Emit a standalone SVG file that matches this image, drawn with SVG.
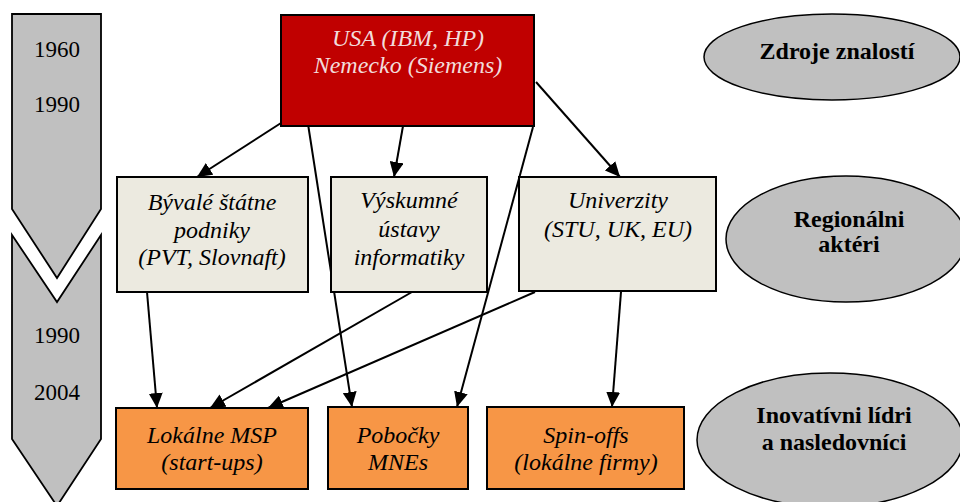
<svg xmlns="http://www.w3.org/2000/svg" width="960" height="502" viewBox="0 0 960 502">
<style>
text{font-family:'Liberation Serif','Times New Roman',serif;font-size:24px;text-anchor:middle}
.y{font-size:23px;fill:#000}
.i{font-style:italic;fill:#000}
.w{font-style:italic;fill:#F2DCDB}
.b{font-weight:bold;fill:#000}
.box{stroke:#000;stroke-width:2}
.mid{fill:#ECEAE0}
.low{fill:#F79646}
.ell{fill:#C0C0C0;stroke:#000;stroke-width:1.5}
.tl{fill:#C0C0C0;stroke:#000;stroke-width:1.8;stroke-linejoin:miter}
.c{stroke:#000;stroke-width:2;fill:none;marker-end:url(#ah)}
</style>
<defs>
<marker id="ah" markerUnits="userSpaceOnUse" markerWidth="16" markerHeight="14" refX="15" refY="7" orient="auto">
<path d="M0,0 L15,7 L0,14 Z" fill="#000"/>
</marker>
</defs>
<rect width="960" height="502" fill="#fff"/>
<g id="timeline1">
<polygon class="tl" points="12,14 101,14 101,209 57,278 12,209"/>
<text class="y" x="57" y="57">1960</text>
<text class="y" x="57" y="112">1990</text>
</g>
<g id="timeline2">
<polygon class="tl" points="12,235 57,302 101,235 101,439 57,506 12,439"/>
<text class="y" x="57" y="343">1990</text>
<text class="y" x="57" y="400">2004</text>
</g>
<g id="connectors">
<line class="c" x1="281" y1="123" x2="197" y2="177"/>
<line class="c" x1="308" y1="124" x2="352" y2="407"/>
<line class="c" x1="403" y1="126" x2="394" y2="177"/>
<line class="c" x1="533" y1="127" x2="457" y2="407"/>
<line class="c" x1="536" y1="82" x2="620" y2="177"/>
<line class="c" x1="147" y1="292" x2="157" y2="408"/>
<line class="c" x1="412" y1="292" x2="210" y2="408"/>
<line class="c" x1="535" y1="292" x2="268" y2="408"/>
<line class="c" x1="621" y1="292" x2="612" y2="407"/>
</g>
<g id="usa">
<rect class="box" x="281" y="15" width="253" height="111" fill="#C00000"/>
<text class="w" x="408" y="46">USA (IBM, HP)</text>
<text class="w" x="408" y="73">Nemecko (Siemens)</text>
</g>
<g id="podniky">
<rect class="box mid" x="117" y="177" width="191" height="115"/>
<text class="i" x="212" y="210">Bývalé štátne</text>
<text class="i" x="212" y="238">podniky</text>
<text class="i" x="212" y="265">(PVT, Slovnaft)</text>
</g>
<g id="ustavy">
<rect class="box mid" x="331" y="177" width="156" height="115"/>
<text class="i" x="409" y="208">Výskumné</text>
<text class="i" x="409" y="237">ústavy</text>
<text class="i" x="409" y="265">informatiky</text>
</g>
<g id="univerzity">
<rect class="box mid" x="519" y="177" width="197" height="114"/>
<text class="i" x="618" y="208">Univerzity</text>
<text class="i" x="618" y="237">(STU, UK, EU)</text>
</g>
<g id="msp">
<rect class="box low" x="116" y="408" width="192" height="81"/>
<text class="i" x="212" y="443">Lokálne MSP</text>
<text class="i" x="212" y="470">(start-ups)</text>
</g>
<g id="pobocky">
<rect class="box low" x="328" y="407" width="140" height="82"/>
<text class="i" x="398" y="443">Pobočky</text>
<text class="i" x="398" y="470">MNEs</text>
</g>
<g id="spinoffs">
<rect class="box low" x="487" y="407" width="197" height="82"/>
<text class="i" x="586" y="443">Spin-offs</text>
<text class="i" x="586" y="470">(lokálne firmy)</text>
</g>
<g id="zdroje">
<ellipse class="ell" cx="832" cy="57" rx="128" ry="43"/>
<text class="b" x="837" y="59">Zdroje znalostí</text>
</g>
<g id="regionalni">
<ellipse class="ell" cx="846" cy="239" rx="120" ry="63"/>
<text class="b" x="849" y="227">Regionálni</text>
<text class="b" x="849" y="252">aktéri</text>
</g>
<g id="inovativni">
<ellipse class="ell" cx="830" cy="440" rx="133" ry="67"/>
<text class="b" x="834" y="423">Inovatívni lídri</text>
<text class="b" x="834" y="450">a nasledovníci</text>
</g>
</svg>
